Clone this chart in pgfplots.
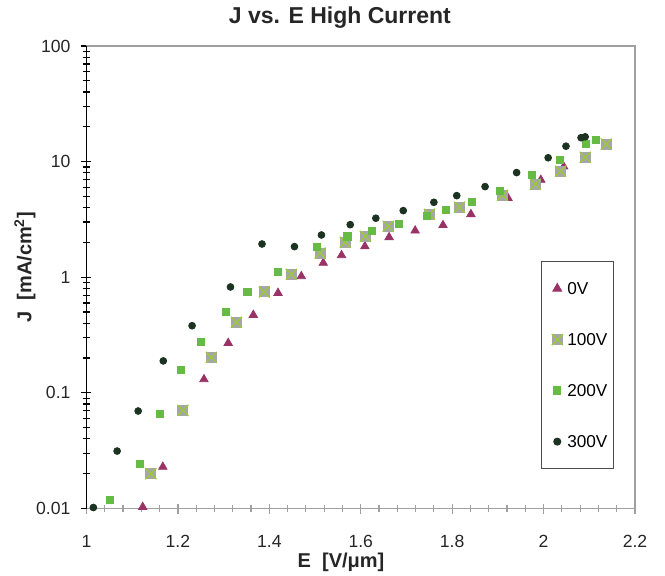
\documentclass[border=0pt]{standalone}
\usepackage{fontspec}
\setmainfont{Liberation Sans}
\usepackage{pgfplots}
\pgfplotsset{compat=1.18}
\definecolor{tri}{HTML}{993366}
\definecolor{sqgray}{HTML}{A6A6A6}
\definecolor{sqgreen}{HTML}{99CC33}
\definecolor{gsq}{HTML}{66BB44}
\definecolor{dcirc}{HTML}{1B3320}
\definecolor{frame}{HTML}{A0A0A0}
\pgfdeclareplotmark{sqx}{%
  \pgfpathrectangle{\pgfpoint{-\pgfplotmarksize}{-\pgfplotmarksize}}{\pgfpoint{2\pgfplotmarksize}{2\pgfplotmarksize}}%
  \pgfsetfillcolor{sqgray}\pgfusepath{fill}%
  \pgfpathmoveto{\pgfpoint{-\pgfplotmarksize}{-\pgfplotmarksize}}\pgfpathlineto{\pgfpoint{\pgfplotmarksize}{\pgfplotmarksize}}%
  \pgfpathmoveto{\pgfpoint{-\pgfplotmarksize}{\pgfplotmarksize}}\pgfpathlineto{\pgfpoint{\pgfplotmarksize}{-\pgfplotmarksize}}%
  \pgfsetstrokecolor{sqgreen}\pgfsetlinewidth{0.6pt}\pgfusepath{stroke}}
\begin{document}
\begin{tikzpicture}
\useasboundingbox (-43.25pt,-33.25pt) rectangle (289.25pt,254.25pt);
\begin{axis}[
  scale only axis, width=274.25pt, height=231.25pt,
  ymode=log, xmin=1, xmax=2.2, ymin=0.01, ymax=100, clip=false,
  xtick={1,1.2,1.4,1.6,1.8,2,2.2}, xticklabels={1,1.2,1.4,1.6,1.8,2,2.2},
  ytick={0.01,0.1,1,10,100}, yticklabels={0.01,0.1,1,10,100},
  minor x tick num=4,
  xtick pos=bottom, ytick pos=left,
  tick align=center, major tick length=5pt, minor tick length=3.5pt,
  axis line style={frame, line width=0.6pt},
  x tick style={frame, line width=0.6pt},
  y tick style={black, line width=0.6pt},
  ticklabel style={font=\fontsize{8.8}{10}\selectfont, text=black!85},
  xticklabel style={yshift=-7.5pt},
  yticklabel style={xshift=-2pt},
  title={\bfseries J vs. E High Current},
  title style={font=\fontsize{11.5}{13}\selectfont, at={(0.462,1)}, anchor=base, yshift=5pt, text=black!85},
  xlabel={\bfseries E\ \ [V/μm]},
  xlabel style={font=\fontsize{10}{12}\selectfont, at={(0.464,0)}, anchor=base, yshift=-29.25pt, text=black!85},
  ylabel={\bfseries J\ \ [mA/cm\textsuperscript{2}]},
  ylabel style={font=\fontsize{10}{12}\selectfont, at={(0,0.522)}, anchor=center, yshift=30.75pt, text=black!85},
  legend style={at={(0.8286,0.5351)}, anchor=north west, draw=black!70, line width=0.6pt,
    inner xsep=3pt, inner ysep=10.4pt, row sep=19.3pt, font=\fontsize{8.6}{10}\selectfont,
    nodes={inner sep=0pt, text height=6.2pt, text depth=0pt}},
  legend cell align=left,
  legend image code/.code={\path[draw=none,fill=none] (0pt,0pt) -- (9.85pt,0pt); \draw plot coordinates {(4.85pt,0pt)};},
]
\draw[black, line width=0.7pt] (rel axis cs:0,0) -- (rel axis cs:0,1);
\addplot[only marks, mark=triangle*, mark size=2.4pt, color=tri] coordinates {
(1.123,0.0103) (1.167,0.0229) (1.257,0.131) (1.310,0.270) (1.365,0.472) (1.419,0.731)
(1.470,1.02) (1.518,1.33) (1.558,1.55) (1.609,1.85) (1.662,2.22) (1.719,2.53)
(1.780,2.82) (1.841,3.51) (1.922,4.85) (1.994,6.95) (2.044,9.06)
};
\addlegendentry{0V}
\addplot[only marks, mark=sqx, mark size=2.75pt] coordinates {
(1.141,0.0200) (1.211,0.0706) (1.273,0.203) (1.328,0.408) (1.389,0.746) (1.448,1.06)
(1.511,1.62) (1.566,2.01) (1.610,2.26) (1.660,2.76) (1.750,3.51) (1.816,4.04)
(1.910,5.12) (1.982,6.38) (2.037,8.26) (2.091,10.9) (2.137,14.2)
};
\addlegendentry{100V}
\addplot[only marks, mark=square*, mark size=1.8pt, color=gsq] coordinates {
(1.051,0.0118) (1.116,0.0244) (1.160,0.066) (1.207,0.157) (1.251,0.274) (1.305,0.501)
(1.352,0.750) (1.418,1.11) (1.504,1.84) (1.571,2.26) (1.625,2.50) (1.684,2.88)
(1.744,3.37) (1.787,3.80) (1.844,4.51) (1.905,5.54) (1.975,7.67) (2.036,10.4)
(2.093,14.2) (2.115,15.3)
};
\addlegendentry{200V}
\addplot[only marks, mark=*, mark size=1.7pt, color=dcirc] coordinates {
(1.015,0.0102) (1.067,0.0314) (1.113,0.0697) (1.168,0.189) (1.231,0.381) (1.315,0.824)
(1.384,1.94) (1.455,1.84) (1.514,2.32) (1.577,2.85) (1.633,3.24) (1.693,3.77)
(1.760,4.45) (1.810,5.08) (1.872,6.08) (1.941,8.04) (2.010,10.8) (2.049,13.6)
(2.082,16.1) (2.091,16.4)
};
\addlegendentry{300V}
\end{axis}
\end{tikzpicture}
\end{document}
